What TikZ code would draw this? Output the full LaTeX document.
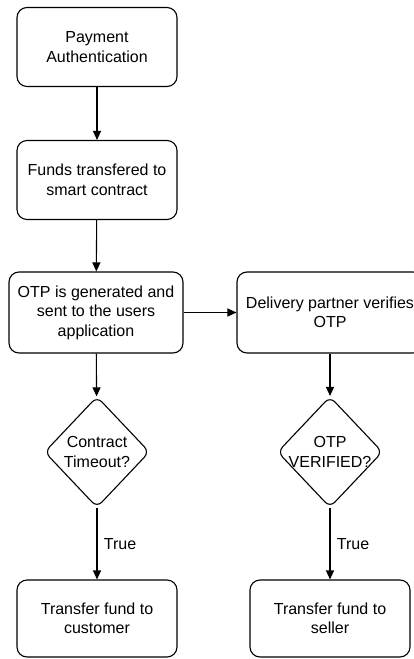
\documentclass[tikz,border=0pt]{standalone}
\usepackage{fontspec}
\setmainfont{Liberation Sans}
\usetikzlibrary{shapes.geometric,arrows.meta}

\tikzset{
  stepbox/.style={draw, rounded corners=10pt, align=center, inner sep=0pt,
    minimum width=160pt, minimum height=79pt},
  decision/.style={draw, diamond, rounded corners=7pt, align=center,
    inner sep=-12pt, minimum width=105pt, minimum height=111pt},
  flow/.style={-{Triangle[length=9pt,width=8pt]}},
}

\begin{document}
\begin{tikzpicture}[x=1pt, y=-1pt, line width=1.1pt, color=black,
  font=\fontsize{16}{19.5}\selectfont]
\useasboundingbox (0,0) rectangle (414,659);

\node[stepbox] (pay) at (97,47) {Payment\\Authentication};
\node[stepbox] (funds) at (97,180) {Funds transfered to\\smart contract};
\node[stepbox, minimum width=174pt, minimum height=81pt] (otp) at (96,312.5)
  {OTP is generated and\\sent to the users\\application};
\node[stepbox, minimum width=186pt, minimum height=81pt] (deliv) at (330,312.5)
  {Delivery partner verifies\\OTP};

\node[decision] (timeout) at (97,452) {Contract\\Timeout?};
\node[decision] (verif) at (330,452) {OTP\\VERIFIED?};

\node[stepbox, minimum height=77pt] (cust) at (97,618.5) {Transfer fund to\\customer};
\node[stepbox, minimum height=77pt] (seller) at (330,618.5) {Transfer fund to\\seller};

\draw[flow] (pay) -- (funds);
\draw[flow] (funds) -- (otp);
\draw[flow] (otp) -- (deliv);
\draw[flow] (otp) -- (timeout);
\draw[flow] (deliv) -- (verif);
\draw[flow] (timeout) -- node[right, xshift=3pt]{True} (cust);
\draw[flow] (verif) -- node[right, xshift=3pt]{True} (seller);

\end{tikzpicture}
\end{document}
